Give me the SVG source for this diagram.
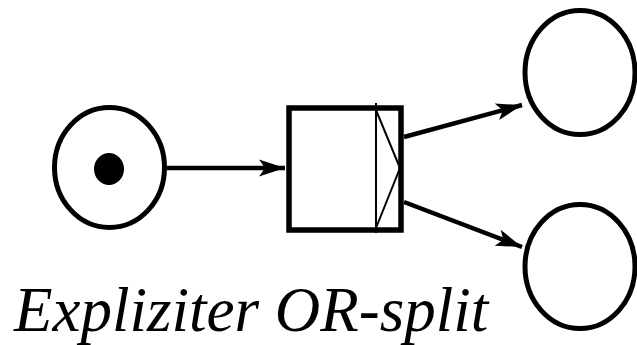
<svg xmlns="http://www.w3.org/2000/svg" width="637" height="345" viewBox="0 0 637 345">
<defs>
<style>
.place{fill:#fff;stroke:#000;stroke-width:5}
.edge{fill:none;stroke:#000;stroke-width:4.5}
.lbl{font-family:'Liberation Serif','Times New Roman',serif;font-size:63px;fill:#000}
</style>
<marker id="arr" markerUnits="userSpaceOnUse" markerWidth="30" markerHeight="20" viewBox="0 0 30 20" refX="28" refY="10" orient="auto">
<path d="M28,10 L2,1.5 L8,10 L2,18.5 Z" fill="#000"/>
</marker>
</defs>
<rect width="637" height="345" fill="#fff"/>
<g id="connectors">
<line class="edge" x1="167" y1="168" x2="285" y2="168" marker-end="url(#arr)"/>
<line class="edge" x1="404" y1="137" x2="522" y2="105" marker-end="url(#arr)"/>
<line class="edge" x1="404" y1="202" x2="522" y2="247" marker-end="url(#arr)"/>
</g>
<g id="p1">
<ellipse class="place" cx="109.5" cy="167.5" rx="55" ry="60"/>
<ellipse cx="109" cy="169" rx="15" ry="16" fill="#000"/>
</g>
<g id="t1">
<rect x="289" y="108" width="112" height="122" fill="#fff" stroke="#000" stroke-width="5.5"/>
<line x1="376" y1="103" x2="376" y2="233" stroke="#000" stroke-width="2"/>
<polyline points="376,110 400,168 376,228" fill="none" stroke="#000" stroke-width="2"/>
</g>
<g id="p2">
<ellipse class="place" cx="580" cy="72.5" rx="55" ry="62"/>
</g>
<g id="p3">
<ellipse class="place" cx="580" cy="266.5" rx="55" ry="62"/>
</g>
<g id="label">
<text class="lbl" x="14" y="331" font-style="italic">Expliziter OR-split</text>
</g>
</svg>
